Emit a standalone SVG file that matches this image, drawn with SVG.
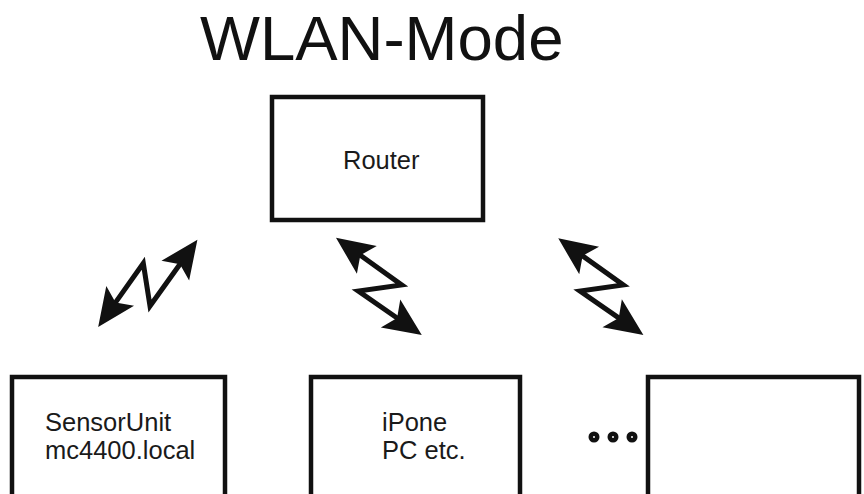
<svg xmlns="http://www.w3.org/2000/svg" width="864" height="494" viewBox="0 0 864 494">
<style>
  .box { fill: #ffffff; stroke: #111111; stroke-width: 4.5; }
  .lbl { font-family: "Liberation Sans", Arial, sans-serif; font-size: 25.5px; fill: #1a1a1a; }
  .title { font-family: "Liberation Sans", Arial, sans-serif; font-size: 63.5px; fill: #111111; }
  .zig { fill: none; stroke: #111111; stroke-width: 5; stroke-linejoin: miter; stroke-miterlimit: 10; marker-start: url(#head); marker-end: url(#head); }
  .dot { fill: #111111; }
  .dotc { fill: #ffffff; }
</style>
<defs>
  <marker id="head" markerUnits="userSpaceOnUse" viewBox="-14 -19 46 38" refX="0" refY="0" markerWidth="46" markerHeight="38" orient="auto-start-reverse">
    <path d="M27,0 L-11,-17 L-3,0 L-11,17 Z" fill="#111111"/>
  </marker>
</defs>
<rect width="864" height="494" fill="#ffffff"/>
<text class="title" x="200" y="60">WLAN-Mode</text>
<g id="router">
  <rect class="box" x="272" y="97" width="211" height="123"/>
  <text class="lbl" x="343" y="169">Router</text>
</g>
<g id="sensorunit">
  <rect class="box" x="12" y="377" width="213" height="130"/>
  <text class="lbl" x="45" y="431">SensorUnit</text>
  <text class="lbl" x="45" y="459">mc4400.local</text>
</g>
<g id="iphone">
  <rect class="box" x="311" y="377" width="209" height="130"/>
  <text class="lbl" x="382" y="431">iPone</text>
  <text class="lbl" x="382" y="459">PC etc.</text>
</g>
<g id="more">
  <circle class="dot" cx="594" cy="437" r="5.5"/>
  <circle class="dot" cx="613" cy="437" r="5.5"/>
  <circle class="dot" cx="632" cy="437" r="5.5"/>
  <circle class="dotc" cx="594" cy="437" r="1"/>
  <circle class="dotc" cx="613" cy="437" r="1"/>
  <circle class="dotc" cx="632" cy="437" r="1"/>
  <rect class="box" x="648" y="377" width="211" height="130"/>
</g>
<g id="connectors">
  <polyline class="zig" points="113.8,304.9 143.3,263.3 150,306 181.7,261.7"/>
  <polyline class="zig" points="357.9,253.5 401.7,285 358.3,291 399.6,319.7"/>
  <polyline class="zig" points="580.2,254.1 623.3,285 580,291 621.2,319.6"/>
</g>
</svg>
